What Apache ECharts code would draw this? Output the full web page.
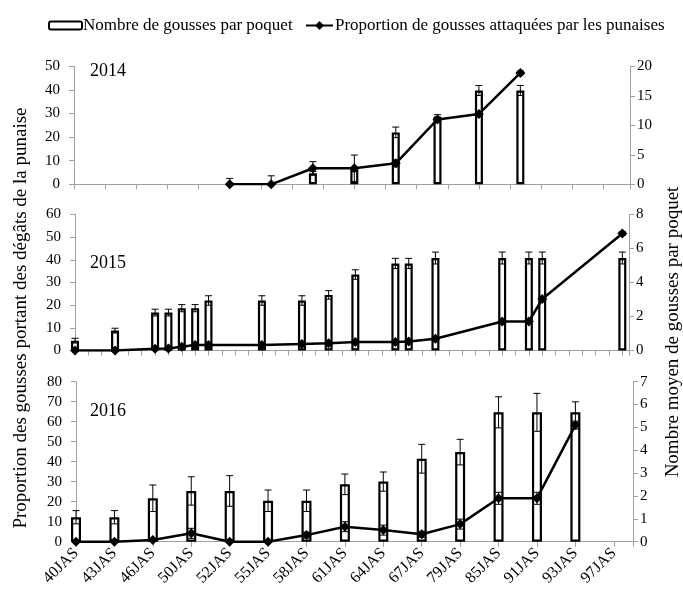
<!DOCTYPE html>
<html><head><meta charset="utf-8">
<script src="https://cdn.jsdelivr.net/npm/echarts@6/dist/echarts.min.js"></script>
<style>html,body{margin:0;padding:0;background:#fff}#c{width:683px;height:594px}</style>
</head><body><div id="c"></div>
<script>
const FONT = 'Liberation Serif';
const BAR_NAME = 'Nombre de gousses par poquet';
const LINE_NAME = 'Proportion de gousses attaquées par les punaises';
const YEARS = ['2014', '2015', '2016'];

// ---- 2014 (x = position on the day axis) ----
const pos2014 = [5, 6.33, 7.67, 9, 10.33, 11.67, 13, 14.33];
const pods2014 = [null, null, 1.86, 2.54, 8.8, 11.4, 15.9, 15.9];
const podsErr2014 = [0, 0, 0.3, 0.3, 0.9, 0.4, 0.85, 0.85];
const damage2014 = [0, 0, 6.8, 6.8, 8.9, 27.5, 29.8, 47.2];
const damageErr2014 = [2.5, 3.6, 2.8, 5.6, 1.5, 1, 1, 0.8];

// ---- 2015 ----
const pos2015 = [0, 3, 6, 7, 8, 9, 10, 14, 17, 19, 21, 24, 25, 27, 32, 34, 35, 41];
const pods2015 = [0.58, 1.17, 2.23, 2.23, 2.49, 2.49, 2.94, 2.94, 2.94, 3.27, 4.47, 5.12, 5.12, 5.44, 5.44, 5.44, 5.44, 5.44];
const podsErr2015 = [0.14, 0.14, 0.2, 0.2, 0.21, 0.21, 0.28, 0.28, 0.28, 0.25, 0.28, 0.3, 0.3, 0.35, 0.35, 0.35, 0.35, 0.35];
const damage2015 = [0, 0, 0.8, 0.9, 1.7, 2.4, 2.4, 2.4, 2.9, 3.2, 3.8, 3.8, 4.0, 5.2, 12.8, 12.8, 22.7, 51.6];
const damageErr2015 = [0.8, 0.8, 0.8, 0.8, 0.8, 0.8, 0.8, 0.8, 0.8, 0.8, 0.8, 0.8, 0.8, 0.8, 0.8, 0.8, 0.8, 0.8];

// ---- 2016 (categories) ----
const labels2016 = ['40JAS', '43JAS', '46JAS', '50JAS', '52JAS', '55JAS', '58JAS', '61JAS', '64JAS', '67JAS', '79JAS', '85JAS', '91JAS', '93JAS', '97JAS'];
const pods2016 = [1.07, 1.07, 1.90, 2.22, 2.22, 1.79, 1.79, 2.51, 2.63, 3.63, 3.92, 5.66, 5.66, 5.66, null];
const podsErr2016 = [0.29, 0.29, 0.58, 0.62, 0.67, 0.47, 0.47, 0.45, 0.42, 0.63, 0.56, 0.68, 0.83, 0.46, 0];
const damage2016 = [0, 0, 0.8, 4.2, 0, 0, 3.3, 7.5, 5.8, 3.7, 8.8, 21.7, 21.7, 58.3, null];
const damageErr2016 = [0, 0, 0.5, 2.5, 0, 0, 1.5, 2.5, 2.5, 1.5, 2.5, 3, 3, 2, 0];

// ---- axis scales ----
const leftMax = [50, 60, 80];
const leftInterval = [10, 10, 10];
const rightMax = [20, 8, 7];
const rightInterval = [5, 2, 1];
const xMax = [17.85, 41.5, 14.5];

const pos2016 = labels2016.map((_, i) => i);

const panels = [
  {pos: pos2014, pods: pods2014, podsErr: podsErr2014, dmg: damage2014, dmgErr: damageErr2014, barW: 8},
  {pos: pos2015, pods: pods2015, podsErr: podsErr2015, dmg: damage2015, dmgErr: damageErr2015, barW: 8},
  {pos: pos2016, pods: pods2016, podsErr: podsErr2016, dmg: damage2016, dmgErr: damageErr2016, barW: 10}
];

const grids = [
  {left: 74, right: 683 - 630, top: 66.3, height: 118},
  {left: 75, right: 683 - 629, top: 214.5, height: 136},
  {left: 76, right: 683 - 633, top: 381.7, height: 160}
];

const AX = '#a0a0a0';
const labelStyle = {fontFamily: FONT, fontSize: 15, color: '#000'};

const xAxes = [], yAxes = [], series = [];

function errSeries(xi, yi, xs, vals, errs, capW) {
  const data = [];
  xs.forEach((x, i) => {
    if (vals[i] != null && errs[i] > 0) data.push([x, vals[i] - errs[i], vals[i] + errs[i]]);
  });
  return {
    type: 'custom', xAxisIndex: xi, yAxisIndex: yi, z: 5, silent: true, data,
    encode: {x: 0, y: [1, 2]},
    renderItem(params, api) {
      const x = api.value(0);
      const loV = api.value(1);
      const lo = api.coord([x, Math.max(loV, 0)]);
      const hi = api.coord([x, api.value(2)]);
      const h = capW / 2;
      const st = {stroke: '#000', lineWidth: 1};
      const ch = [
        {type: 'line', shape: {x1: lo[0], y1: lo[1], x2: hi[0], y2: hi[1]}, style: st},
        {type: 'line', shape: {x1: hi[0] - h, y1: hi[1], x2: hi[0] + h, y2: hi[1]}, style: st}
      ];
      if (loV > 0) ch.push({type: 'line', shape: {x1: lo[0] - h, y1: lo[1], x2: lo[0] + h, y2: lo[1]}, style: st});
      return {type: 'group', children: ch};
    }
  };
}

panels.forEach((p, g) => {
  const isLast = g === 2;
  xAxes.push({
    type: 'value', gridIndex: g, min: 0, max: xMax[g], interval: 1,
    axisLine: {show: true, onZero: false, lineStyle: {color: AX, width: 1}},
    axisTick: {show: true, length: 5, lineStyle: {color: AX}},
    splitLine: {show: false},
    axisLabel: isLast ? {
      show: true, rotate: 45, margin: 9, fontFamily: FONT, fontSize: 16, color: '#000',
      formatter: v => (Number.isInteger(v) && labels2016[v]) ? labels2016[v] : ''
    } : {show: false}
  });
  yAxes.push({
    type: 'value', gridIndex: g, position: 'left', min: 0, max: leftMax[g], interval: leftInterval[g],
    axisLine: {show: true, onZero: false, lineStyle: {color: AX}},
    axisTick: {show: true, length: 5, lineStyle: {color: AX}},
    splitLine: {show: false},
    axisLabel: Object.assign({margin: 14}, labelStyle)
  });
  yAxes.push({
    type: 'value', gridIndex: g, position: 'right', min: 0, max: rightMax[g], interval: rightInterval[g],
    axisLine: {show: true, onZero: false, lineStyle: {color: AX}},
    axisTick: {show: true, length: 5, lineStyle: {color: AX}},
    splitLine: {show: false},
    axisLabel: Object.assign({margin: 7}, labelStyle)
  });
  const yl = g * 2, yr = g * 2 + 1;
  const barData = [];
  p.pos.forEach((x, i) => { if (p.pods[i] != null) barData.push([x, p.pods[i]]); });
  series.push({
    name: BAR_NAME, type: 'bar', xAxisIndex: g, yAxisIndex: yr, barWidth: p.barW,
    data: barData, clip: false,
    itemStyle: {color: '#fff', borderColor: '#000', borderWidth: 2.2}
  });
  series.push(errSeries(g, yr, p.pos, p.pods, p.podsErr, 7));
  const lineData = [];
  p.pos.forEach((x, i) => { if (p.dmg[i] != null) lineData.push([x, p.dmg[i]]); });
  series.push({
    name: LINE_NAME, type: 'line', xAxisIndex: g, yAxisIndex: yl, z: 6,
    data: lineData, symbol: 'diamond', symbolSize: 10,
    lineStyle: {color: '#000', width: 2.5}, itemStyle: {color: '#000'}
  });
  series.push(Object.assign(errSeries(g, yl, p.pos, p.dmg, p.dmgErr, 7), {z: 7}));
});

const yearTops = [62, 254, 402];

const option = {
  animation: false,
  backgroundColor: '#fff',
  textStyle: {fontFamily: FONT},
  grid: grids,
  xAxis: xAxes,
  yAxis: yAxes,
  series,
  legend: [
    {data: [BAR_NAME], left: 43, top: 12, itemWidth: 33, itemHeight: 8, itemGap: 0,
     textStyle: {fontFamily: FONT, fontSize: 17, color: '#000', padding: [0, 0, 0, -4]}},
    {data: [LINE_NAME], left: 300, top: 12, itemWidth: 27, itemHeight: 11, itemGap: 0,
     textStyle: {fontFamily: FONT, fontSize: 17, color: '#000', padding: [0, 0, 0, -3]}}
  ],
  graphic: [
    ...YEARS.map((y, i) => ({type: 'text', left: 90, top: yearTops[i],
      style: {text: y, font: '18px ' + FONT, fill: '#000'}})),
    {type: 'text', x: 21, y: 318, rotation: Math.PI / 2,
     style: {text: 'Proportion des gousses portant des dégâts de la punaise', font: '19px ' + FONT,
             fill: '#000', align: 'center', verticalAlign: 'middle'}},
    {type: 'text', x: 673, y: 332, rotation: Math.PI / 2,
     style: {text: 'Nombre moyen de gousses par poquet', font: '19px ' + FONT,
             fill: '#000', align: 'center', verticalAlign: 'middle'}}
  ]
};

const chart = echarts.init(document.getElementById('c'), null, {renderer: 'canvas'});
chart.setOption(option);
</script>
</body></html>
